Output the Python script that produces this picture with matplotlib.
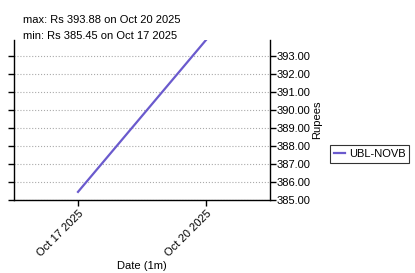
import matplotlib
matplotlib.use("Agg")
import matplotlib.pyplot as plt
from matplotlib.ticker import FormatStrFormatter

plt.rcParams['font.family'] = ['Liberation Sans', 'DejaVu Sans']

dates = ["Oct 17 2025", "Oct 20 2025"]
prices = [385.45, 393.88]
series_name = "UBL-NOVB"
yticks = [385, 386, 387, 388, 389, 390, 391, 392, 393]

fs = 8
fig = plt.figure(figsize=(4.15, 2.73), dpi=100)
ax = fig.add_axes([14/415, 1-200/273, 256/415, 160/273])

x = list(range(len(dates)))
ax.plot(x, prices, color='#6a5acd', lw=1.6, label=series_name)
ax.set_xlim(-0.5, len(dates) - 0.5)
ax.set_ylim(385, 393.88)
ax.set_xticks(x)
ax.set_xticklabels(dates, rotation=45, ha='right', rotation_mode='anchor', fontsize=fs)
ax.set_yticks(yticks)
ax.yaxis.set_major_formatter(FormatStrFormatter('%.2f'))
ax.yaxis.tick_right()
ax.yaxis.set_label_position('right')
ax.tick_params(axis='y', which='both', left=True, right=True, labelleft=False, labelright=True,
               labelsize=fs, length=4, width=1, pad=1)
ax.tick_params(axis='x', length=4, width=1, labelsize=fs, pad=2)
ax.set_ylabel("Rupees", fontsize=fs, labelpad=1)
ax.set_xlabel("Date (1m)", fontsize=fs, labelpad=2)
ax.spines['top'].set_visible(False)
for s in ['left', 'right', 'bottom']:
    ax.spines[s].set_linewidth(1)
ax.grid(axis='y', linestyle=':', color='#aaaaaa', lw=0.8)
ax.set_axisbelow(True)

fig.text(23/415, 1-20/273, f"max: Rs {max(prices):.2f} on {dates[prices.index(max(prices))]}",
         fontsize=fs, va='center', ha='left')
fig.text(23/415, 1-36/273, f"min: Rs {min(prices):.2f} on {dates[prices.index(min(prices))]}",
         fontsize=fs, va='center', ha='left')

leg = fig.legend(loc='center left', bbox_to_anchor=(330/415, 1-154/273), fontsize=fs,
                 frameon=True, fancybox=False, edgecolor='black', handlelength=1.0,
                 borderpad=0.35, handletextpad=0.35, borderaxespad=0)
leg.get_frame().set_linewidth(0.8)

fig.savefig("out.png", dpi=100)
